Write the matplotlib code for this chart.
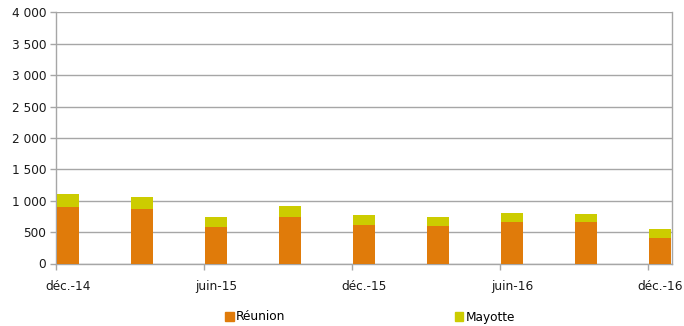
import matplotlib
matplotlib.use("Agg")
import matplotlib.pyplot as plt
from matplotlib.patches import Patch
import numpy as np

periods = ["déc.-14", "mars-15", "juin-15", "sept.-15", "déc.-15",
           "mars-16", "juin-16", "sept.-16", "déc.-16"]
reunion = [897, 860, 583, 743, 610, 605, 663, 663, 408]
mayotte = [203, 201, 155, 175, 155, 138, 139, 123, 139]
series_names = ["Réunion", "Mayotte"]
yticks = [0, 500, 1000, 1500, 2000, 2500, 3000, 3500, 4000]

c_reunion = "#E07B0A"
c_mayotte = "#CCCC00"
grid_c = "#A6A6A6"

plt.rcParams["font.family"] = ["DejaVu Sans"]
fig = plt.figure(figsize=(6.84, 3.26), dpi=100)
ax = fig.add_axes([56 / 684, 1 - 263.5 / 326, (672 - 56) / 684, (263.5 - 12.3) / 326])

x = np.arange(len(periods))
w = 0.29
off = 0.02
ax.bar(x + off, reunion, width=w, align="edge", color=c_reunion, zorder=3)
ax.bar(x + off, mayotte, width=w, bottom=reunion, align="edge", color=c_mayotte, zorder=3)

ax.set_xlim(0, 8.33)
ax.set_ylim(0, 4000)
ax.set_yticks(yticks)
ax.set_yticklabels([f"{v:,}".replace(",", " ") for v in yticks])

# tick marks on the period boundaries, labels centred under the bars
ax.set_xticks(x[::2])
ax.set_xticklabels([])
ax.set_xticks(x[::2] + off + w / 2, minor=True)
ax.set_xticklabels(periods[::2], minor=True)
ax.tick_params(axis="x", which="minor", length=0, pad=12, labelsize=8.7,
               labelcolor="#1a1a1a")

ax.yaxis.grid(True, color=grid_c, linewidth=1.0, zorder=0)
ax.set_axisbelow(True)

for s in ["left", "bottom", "right"]:
    ax.spines[s].set_color(grid_c)
    ax.spines[s].set_linewidth(1.0)
ax.spines["top"].set_visible(False)
ax.tick_params(axis="both", which="major", colors=grid_c, labelcolor="#1a1a1a",
               labelsize=8.7, length=4, width=1.0)
ax.tick_params(axis="y", pad=3)

handles = [Patch(color=c_reunion), Patch(color=c_mayotte)]
fig.legend(handles, series_names, loc="center", bbox_to_anchor=(370 / 684, 1 - 317 / 326),
           ncol=2, frameon=False, fontsize=8.7, handlelength=0.7, handleheight=0.7,
           handletextpad=0.2, columnspacing=14)

fig.savefig("out.png", dpi=100)
